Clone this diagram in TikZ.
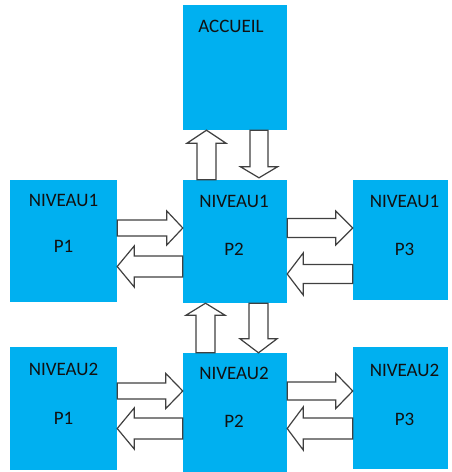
\documentclass[tikz,border=0pt]{standalone}
\usepackage{fontspec}
\setmainfont{Carlito}
\usetikzlibrary{calc}
\definecolor{boxblue}{HTML}{00B0F0}
\definecolor{arrline}{HTML}{404040}
\definecolor{txt}{HTML}{111111}
\tikzset{
  pagebox/.style={rectangle, fill=boxblue, draw=none, inner sep=0pt},
  lbl/.style={text=txt, inner sep=0pt, font=\fontsize{19}{19}\selectfont},
  blockarrow/.style={fill=white, draw=arrline, line width=1.2pt, line join=miter}
}
% #1 from, #2 to, #3 shaft half width, #4 head half width, #5 head length
\newcommand{\blockarr}[5]{%
  \coordinate (ba-a) at #1;
  \coordinate (ba-b) at #2;
  \coordinate (ba-h) at ($(ba-b)!#5!(ba-a)$);
  \draw[blockarrow] ($(ba-a)!#3!90:(ba-b)$) -- ($(ba-h)!#3!-90:(ba-a)$) -- ($(ba-h)!#4!-90:(ba-a)$) -- (ba-b) -- ($(ba-h)!#4!90:(ba-a)$) -- ($(ba-h)!#3!90:(ba-a)$) -- ($(ba-a)!#3!-90:(ba-b)$) -- cycle;
}
\begin{document}
\begin{tikzpicture}[x=1pt,y=-1pt]
\useasboundingbox (0,0) rectangle (451,472);
% boxes
\node[pagebox, minimum width=104pt, minimum height=125pt] (acc) at (235,67.5) {};
\node[pagebox, minimum width=107pt, minimum height=122pt] (n11) at (63.5,241) {};
\node[pagebox, minimum width=104pt, minimum height=123pt] (n12) at (235,241.5) {};
\node[pagebox, minimum width=95pt, minimum height=120pt] (n13) at (400.5,240) {};
\node[pagebox, minimum width=107pt, minimum height=123pt] (n21) at (63.5,408.5) {};
\node[pagebox, minimum width=104pt, minimum height=119pt] (n22) at (235,412.5) {};
\node[pagebox, minimum width=95pt, minimum height=122pt] (n23) at (400.5,408) {};
% texts
\node[lbl] (tacc) at ([xshift=-4pt,yshift=-22pt]acc.north) {ACCUEIL};
\node[lbl] (t11a) at ([yshift=-21pt]n11.north) {NIVEAU1};
\node[lbl] (t11b) at ([yshift=-67pt]n11.north) {P1};
\node[lbl] (t12a) at ([xshift=-1pt,yshift=-22pt]n12.north) {NIVEAU1};
\node[lbl] (t12b) at ([xshift=-1pt,yshift=-70pt]n12.north) {P2};
\node[lbl] (t13a) at ([xshift=4pt,yshift=-22pt]n13.north) {NIVEAU1};
\node[lbl] (t13b) at ([xshift=4pt,yshift=-70pt]n13.north) {P3};
\node[lbl] (t21a) at ([yshift=-23pt]n21.north) {NIVEAU2};
\node[lbl] (t21b) at ([yshift=-72pt]n21.north) {P1};
\node[lbl] (t22a) at ([xshift=-1pt,yshift=-21pt]n22.north) {NIVEAU2};
\node[lbl] (t22b) at ([xshift=-1pt,yshift=-69pt]n22.north) {P2};
\node[lbl] (t23a) at ([xshift=4pt,yshift=-24pt]n23.north) {NIVEAU2};
\node[lbl] (t23b) at ([xshift=4pt,yshift=-73pt]n23.north) {P3};
% vertical arrows
\blockarr{([xshift=-28.5pt]n12.north)}{([xshift=-28.5pt]acc.south)}{9.5pt}{19.5pt}{13pt}
\blockarr{([xshift=24pt]acc.south)}{([xshift=24pt,yshift=2pt]n12.north)}{9pt}{18.5pt}{11pt}
\blockarr{([xshift=-29.5pt]n22.north)}{([xshift=-29.5pt]n12.south)}{9.5pt}{19.5pt}{12pt}
\blockarr{([xshift=23.5pt]n12.south)}{([xshift=23.5pt]n22.north)}{9.5pt}{18.5pt}{14pt}
% level 1 horizontal arrows
\blockarr{([yshift=13pt]n11.east)}{([yshift=13.5pt]n12.west)}{8pt}{17pt}{16pt}
\blockarr{([yshift=-25pt]n12.west)}{([yshift=-25.5pt]n11.east)}{10.5pt}{20.5pt}{17pt}
\blockarr{([yshift=13.5pt]n12.east)}{([yshift=12pt]n13.west)}{9.5pt}{17pt}{17pt}
\blockarr{([yshift=-34pt]n13.west)}{([yshift=-32.5pt]n12.east)}{9.5pt}{21pt}{16pt}
% level 2 horizontal arrows
\blockarr{([yshift=17.5pt]n21.east)}{([yshift=21.5pt]n22.west)}{8pt}{17.5pt}{17pt}
\blockarr{([yshift=-16pt]n22.west)}{([yshift=-20pt]n21.east)}{10.5pt}{20.5pt}{17pt}
\blockarr{([yshift=21.5pt]n22.east)}{([yshift=17pt]n23.west)}{9pt}{17.5pt}{17pt}
\blockarr{([yshift=-20.5pt]n23.west)}{([yshift=-16pt]n22.east)}{10.5pt}{21.5pt}{16pt}
\end{tikzpicture}
\end{document}
